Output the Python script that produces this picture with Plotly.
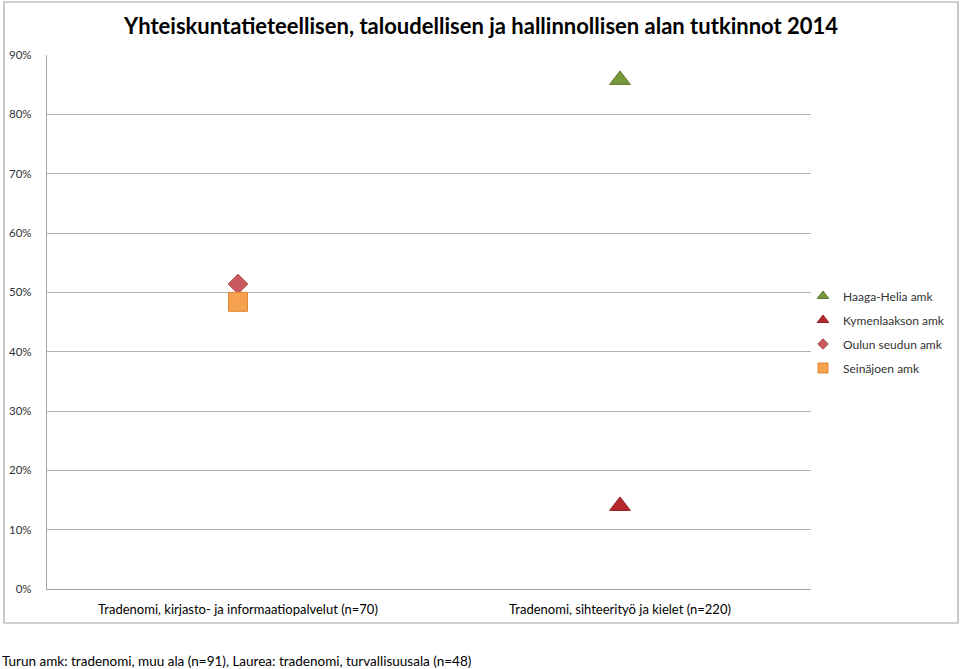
import plotly.graph_objects as go

# Data
categories = [
    "Tradenomi, kirjasto- ja informaatiopalvelut (n=70)",
    "Tradenomi, sihteerityö ja kielet (n=220)",
]
series_names = ["Haaga-Helia amk", "Kymenlaakson amk", "Oulun seudun amk", "Seinäjoen amk"]
haaga_helia = [None, 85.8]
kymenlaakson = [None, 14.0]
oulun_seudun = [51.4, None]
seinajoen = [48.4, None]
y_ticks = [0, 10, 20, 30, 40, 50, 60, 70, 80, 90]

title_text = "Yhteiskuntatieteellisen, taloudellisen ja hallinnollisen alan tutkinnot 2014"
footnote = "Turun amk: tradenomi, muu ala (n=91), Laurea: tradenomi, turvallisuusala (n=48)"

FONT = "Lato"
W, H = 960, 669
L, R, T, B = 47, 149, 55, 80

styles = [
    dict(symbol="triangle-up", size=18, color="#76983A", line=dict(color="#5E7A2C", width=1)),
    dict(symbol="triangle-up", size=18, color="#B5292E", line=dict(color="#8E1E22", width=1)),
    dict(symbol="diamond", size=15, color="#C85A60", line=dict(color="#A5444A", width=1)),
    dict(symbol="square", size=19, color="#F5A14E", line=dict(color="#E0873A", width=1)),
]
legend_sizes = [10, 10, 8, 10]

fig = go.Figure()
for name, values, marker in zip(series_names, [haaga_helia, kymenlaakson, oulun_seudun, seinajoen], styles):
    fig.add_trace(go.Scatter(
        x=categories, y=values, mode="markers", name=name,
        marker=marker, showlegend=False,
    ))

# small legend-only markers, like the reference
for name, marker, size in zip(series_names, styles, legend_sizes):
    fig.add_trace(go.Scatter(
        x=[None], y=[None], mode="markers", name=name,
        marker={**marker, "size": size}, legendgroup=name,
    ))

# paper coords for the outer chart border (pixels -> paper)
pw, ph = W - L - R, H - T - B


def px_x(px):
    return (px - L) / pw


def px_y(py):
    return (H - B - py) / ph


fig.add_shape(
    type="rect", xref="paper", yref="paper",
    x0=px_x(4), x1=px_x(958), y0=px_y(623), y1=px_y(2),
    line=dict(color="#A6A6A6", width=1.2), fillcolor="rgba(0,0,0,0)", layer="below",
)

fig.add_annotation(
    text=f"<b>{title_text}</b>", xref="paper", yref="paper",
    x=px_x(480), y=px_y(25), showarrow=False, xanchor="center", yanchor="middle",
    font=dict(family=FONT, size=22, color="#000000"),
)
fig.add_annotation(
    text=footnote, xref="paper", yref="paper",
    x=px_x(0), y=px_y(661), showarrow=False, xanchor="left", yanchor="middle",
    font=dict(family=FONT, size=13.5, color="#000000"),
)

fig.update_layout(
    width=W, height=H,
    margin=dict(l=L, r=R, t=T, b=B, pad=0, autoexpand=False),
    paper_bgcolor="white", plot_bgcolor="white",
    font=dict(family=FONT, size=12, color="#333333"),
    showlegend=True,
    legend=dict(
        x=px_x(803), y=px_y(332), xanchor="left", yanchor="middle",
        traceorder="grouped", tracegroupgap=5, itemwidth=30,
        font=dict(family=FONT, size=12, color="#333333"),
        bgcolor="rgba(0,0,0,0)",
    ),
    xaxis=dict(
        type="category", range=[-0.5, 1.5],
        showgrid=False, showline=True, linecolor="#A6A6A6", linewidth=1.2,
        ticks="", tickfont=dict(family=FONT, size=13, color="#000000"),
        ticklabelstandoff=8, zeroline=False,
    ),
    yaxis=dict(
        range=[0, 90], tickvals=y_ticks, ticktext=[f"{v}%" for v in y_ticks],
        showgrid=True, gridcolor="#B3B3B3", gridwidth=1,
        showline=True, linecolor="#A6A6A6", linewidth=1.2,
        ticks="", tickfont=dict(family=FONT, size=11.5, color="#333333"),
        ticklabelstandoff=12, zeroline=False,
    ),
)

# drop the page's default body margin so the figure sits at the window corner
fig.write_html(
    "out.html",
    config={"displayModeBar": False},
    post_script="document.body.style.margin='0';",
)
